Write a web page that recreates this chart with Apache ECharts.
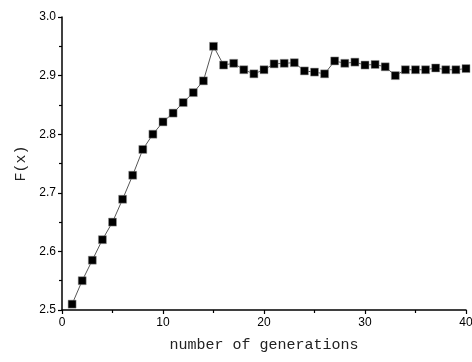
<!DOCTYPE html>
<html><head><meta charset="utf-8">
<script src="https://cdn.jsdelivr.net/npm/echarts@6/dist/echarts.min.js"></script>
<style>html,body{margin:0;padding:0;background:#fff}#c{width:472px;height:362px}</style>
</head><body><div id="c"></div>
<script>
const generations = [1,2,3,4,5,6,7,8,9,10,11,12,13,14,15,16,17,18,19,20,21,22,23,24,25,26,27,28,29,30,31,32,33,34,35,36,37,38,39,40];
const fitness = [2.510,2.550,2.585,2.620,2.650,2.689,2.730,2.774,2.800,2.821,2.836,2.854,2.871,2.891,2.950,2.918,2.921,2.910,2.903,2.910,2.920,2.921,2.922,2.908,2.906,2.903,2.925,2.921,2.923,2.918,2.919,2.915,2.900,2.910,2.910,2.910,2.913,2.910,2.910,2.912];
const xAxisName = 'number of generations';
const yAxisName = 'F(x)';

const chart = echarts.init(document.getElementById('c'));
chart.setOption({
  animation: false,
  grid: {left: 62, right: 6, top: 17, bottom: 52, containLabel: false, outerBoundsMode: 'none'},
  xAxis: {
    type: 'value', min: 0, max: 40, interval: 10,
    name: xAxisName, nameLocation: 'middle', nameGap: 28,
    nameTextStyle: {fontFamily: 'Liberation Mono', fontSize: 15, color: '#222'},
    axisLine: {lineStyle: {color: '#000', width: 1.5}},
    axisTick: {inside: false, length: 4, lineStyle: {color: '#000', width: 1.2}},
    minorTick: {show: true, splitNumber: 2, length: 3, lineStyle: {color: '#000', width: 1.2}},
    axisLabel: {fontFamily: 'Liberation Sans', fontSize: 12, color: '#000', margin: 7, hideOverlap: false},
    splitLine: {show: false}
  },
  yAxis: {
    type: 'value', min: 2.5, max: 3.0, interval: 0.1,
    name: yAxisName, nameLocation: 'middle', nameGap: 33, nameRotate: 90,
    nameTextStyle: {fontFamily: 'Liberation Mono', fontSize: 15, color: '#222'},
    axisLine: {show: true, lineStyle: {color: '#000', width: 1.5}},
    axisTick: {show: true, inside: false, length: 4, lineStyle: {color: '#000', width: 1.2}},
    minorTick: {show: true, splitNumber: 2, length: 3, lineStyle: {color: '#000', width: 1.2}},
    axisLabel: {fontFamily: 'Liberation Sans', fontSize: 12, color: '#000', margin: 6,
      formatter: v => v.toFixed(1)},
    splitLine: {show: false}
  },
  series: [{
    type: 'line',
    data: generations.map((g, i) => [g, fitness[i]]),
    symbol: 'rect', symbolSize: 8,
    itemStyle: {color: '#000', borderColor: '#999', borderWidth: 0.5},
    lineStyle: {color: '#555', width: 1},
    clip: false
  }]
});
</script></body></html>
